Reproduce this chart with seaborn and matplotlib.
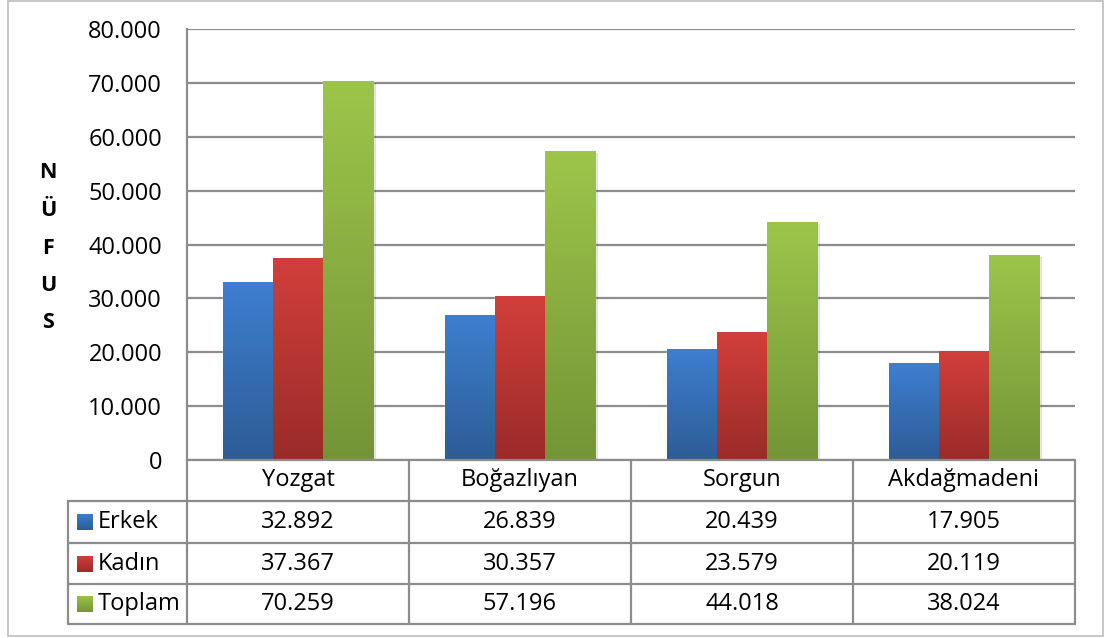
import numpy as np
import pandas as pd
import matplotlib
matplotlib.use("Agg")
import matplotlib.pyplot as plt
import seaborn as sns
from matplotlib.lines import Line2D
from matplotlib.patches import Rectangle
from matplotlib.colors import LinearSegmentedColormap
import matplotlib.patheffects as pe

# --- data ---
categories = ["Yozgat", "Boğazlıyan", "Sorgun", "Akdağmadeni"]
series_names = ["Erkek", "Kadın", "Toplam"]
erkek = [32892, 26839, 20439, 17905]
kadin = [37367, 30357, 23579, 20119]
toplam = [70259, 57196, 44018, 38024]
yticks = [0, 10000, 20000, 30000, 40000, 50000, 60000, 70000, 80000]
ylabel_letters = ["N", "Ü", "F", "U", "S"]

# top / bottom colours of the gradient fills
grad = {
    "Erkek": ("#3e7fd0", "#2d5c96"),
    "Kadın": ("#d23f3b", "#9a2b29"),
    "Toplam": ("#9dc54a", "#749436"),
}

df = pd.DataFrame({
    "il": categories * 3,
    "seri": [s for s in series_names for _ in categories],
    "nufus": erkek + kadin + toplam,
})

W, H = 1105, 638
FONT = "Open Sans"
FS = 17
GRID = "#8c8c8c"

sns.set_theme(style="white")
plt.rcParams["font.family"] = [FONT, "DejaVu Sans"]

fig = plt.figure(figsize=(W / 100, H / 100), dpi=100)
fx = lambda px: px / W
fy = lambda py: 1 - py / H

# plot area: x 187..1075, y 29..460
ax = fig.add_axes([fx(187), fy(460), fx(1075) - fx(187), fy(29) - fy(460)])

sns.barplot(data=df, x="il", y="nufus", hue="seri", order=categories,
            hue_order=series_names, palette=[grad[s][1] for s in series_names],
            width=0.68, gap=0, legend=False, ax=ax, zorder=2)

# gradient fill for each bar + soft shadow
vert = np.linspace(1, 0, 256).reshape(-1, 1)
for patch, s in zip(ax.patches, [s for s in series_names for _ in categories]):
    x0, y0 = patch.get_x(), patch.get_y()
    w, h = patch.get_width(), patch.get_height()
    patch.set_path_effects([pe.SimplePatchShadow(offset=(2, -1), shadow_rgbFace="#000000", alpha=0.12), pe.Normal()])
    cmap = LinearSegmentedColormap.from_list(s, [grad[s][1], grad[s][0]])
    ax.imshow(vert, cmap=cmap, extent=[x0, x0 + w, y0, y0 + h], aspect="auto",
              interpolation="bilinear", zorder=3)
ax.set_xlim(-0.5, len(categories) - 0.5)
ax.set_ylim(0, 80000)

ax.set_yticks(yticks)
ax.set_yticklabels(["0" if v == 0 else f"{v:,}".replace(",", ".") for v in yticks],
                   fontsize=FS, color="black")
ax.tick_params(axis="y", length=0, pad=18)
ax.set_xticks([])
ax.set_xlabel("")
ax.set_ylabel("")
ax.yaxis.grid(True, color=GRID, lw=1.6)
ax.set_axisbelow(True)
for side in ["top", "right", "bottom"]:
    ax.spines[side].set_visible(False)
ax.spines["left"].set_color(GRID)
ax.spines["left"].set_linewidth(1.6)

# vertical axis title, one letter per line
for i, ch in enumerate(ylabel_letters):
    fig.text(fx(48), fy(173 + i * 37.5), ch, ha="center", va="center",
             fontsize=FS - 1.5, fontweight="bold", color="black")

# --- data table under the chart ---
col_x = [187, 409, 631, 853, 1075]
row_y = [460, 501, 543, 584, 624]
label_x0 = 68

def hline(x0, x1, y):
    fig.add_artist(Line2D([fx(x0), fx(x1)], [fy(y), fy(y)], color=GRID, lw=1.6,
                          transform=fig.transFigure))

def vline(x, y0, y1):
    fig.add_artist(Line2D([fx(x), fx(x)], [fy(y0), fy(y1)], color=GRID, lw=1.6,
                          transform=fig.transFigure))

hline(col_x[0], col_x[-1], row_y[0])
for y in row_y[1:]:
    hline(label_x0, col_x[-1], y)
for x in col_x:
    vline(x, row_y[0], row_y[-1])
vline(label_x0, row_y[1], row_y[-1])

for j, cat in enumerate(categories):
    cx = (col_x[j] + col_x[j + 1]) / 2
    fig.text(fx(cx), fy((row_y[0] + row_y[1]) / 2), cat, ha="center", va="center",
             fontsize=FS, color="black")

values = [erkek, kadin, toplam]
for i, s in enumerate(series_names):
    cy = (row_y[i + 1] + row_y[i + 2]) / 2
    # legend key with gradient
    kax = fig.add_axes([fx(77), fy(cy + 8), fx(93) - fx(77), fy(cy - 8) - fy(cy + 8)])
    kcmap = LinearSegmentedColormap.from_list(s + "_k", [grad[s][1], grad[s][0]])
    kax.imshow(vert, cmap=kcmap, aspect="auto", interpolation="bilinear")
    kax.axis("off")
    fig.text(fx(98), fy(cy), s, ha="left", va="center", fontsize=FS, color="black")
    for j, v in enumerate(values[i]):
        cx = (col_x[j] + col_x[j + 1]) / 2
        fig.text(fx(cx), fy(cy), f"{v:,}".replace(",", "."), ha="center", va="center",
                 fontsize=FS, color="black")

# chart border
fig.add_artist(Rectangle((fx(8), fy(636)), fx(1103) - fx(8), fy(1) - fy(636),
                         fill=False, edgecolor="#bdbdbd", lw=1.2, transform=fig.transFigure))

fig.savefig("out.png", dpi=100)
